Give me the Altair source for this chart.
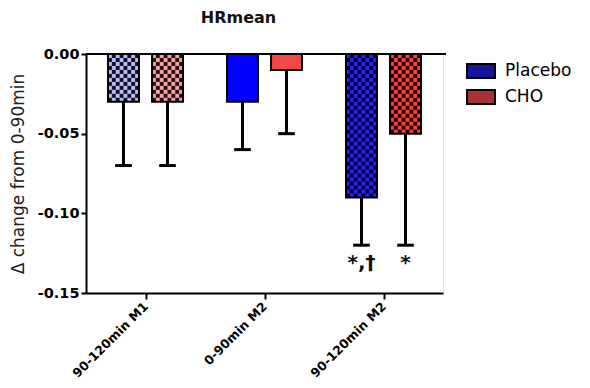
import altair as alt
import pandas as pd

# Δ heart rate (mean) relative to the 0-90 min block
groups = ["90-120min M1", "0-90min M2", "90-120min M2"]
series = ["Placebo", "CHO"]
placebo_mean = [-0.03, -0.03, -0.09]
placebo_sd = [0.04, 0.03, 0.03]
cho_mean = [-0.03, -0.01, -0.05]
cho_sd = [0.04, 0.04, 0.07]
placebo_marks = ["", "", "*,†"]
cho_marks = ["", "", "*"]

FONT = "DejaVu Sans"

# fill styles per group: (base, checker) colours; None = solid bar
styles = {
    "Placebo": [("#bcbcf4", "#10102a"), ("#0000ff", None), ("#2424ee", "#000040")],
    "CHO": [("#f4a4a4", "#2a1010"), ("#f44848", None), ("#f04444", "#300000")],
}
legend_colors = ["#16169c", "#a83232"]

BAR_W = 0.26      # bar width in x units (one group = 1 unit)
GAP = 0.055       # half gap between the two bars of a group
CAP = 0.07        # half width of the error-bar cap
NCOL = 8          # checker squares across a bar
CELL_H = 0.0025   # checker square height in y units

bars, cells = [], []
for s_idx, (name, means, sds, marks) in enumerate([
    ("Placebo", placebo_mean, placebo_sd, placebo_marks),
    ("CHO", cho_mean, cho_sd, cho_marks),
]):
    for g, grp in enumerate(groups):
        c = g + 0.5
        x0 = c - GAP - BAR_W if s_idx == 0 else c + GAP
        x1 = x0 + BAR_W
        base, dark = styles[name][g]
        m = means[g]
        bars.append(dict(series=name, group=grp, x0=x0, x1=x1, xc=(x0 + x1) / 2,
                         mean=m, low=m - sds[g], fill=base, mark=marks[g],
                         cap0=(x0 + x1) / 2 - CAP, cap1=(x0 + x1) / 2 + CAP))
        if dark is None:
            continue
        cw = BAR_W / NCOL
        nrow = int(round(abs(m) / CELL_H))
        for r in range(nrow):
            y0 = -r * CELL_H
            y1 = max(-(r + 1) * CELL_H, m)
            for k in range(NCOL):
                if (r + k) % 2 == 1:
                    cells.append(dict(cx0=x0 + k * cw, cx1=x0 + (k + 1) * cw,
                                      cy0=y0, cy1=y1, fill=dark))

bar_df = pd.DataFrame(bars)
cell_df = pd.DataFrame(cells)

label_list = "[" + ",".join("'" + g + "'" for g in groups) + "]"

x_scale = alt.Scale(domain=[0, 3], nice=False, zero=False)
y_scale = alt.Scale(domain=[-0.15, 0], nice=False)

x_axis = alt.Axis(
    values=[0.5, 1.5, 2.5], labelExpr=label_list + "[floor(datum.value)]",
    labelAngle=-45, labelAlign="right", labelBaseline="middle", labelPadding=5,
    labelFont=FONT, labelFontWeight="bold", labelFontSize=12.5, labelColor="#000",
    domainColor="#000", domainWidth=2, tickColor="#000", tickWidth=2, tickSize=6,
    grid=False, title=None,
)
y_axis = alt.Axis(
    values=[-0.15, -0.1, -0.05, 0], labelExpr="replace(format(datum.value, '.2f'), '−', '-')",
    labelFont=FONT, labelFontWeight="bold", labelFontSize=14.5, labelColor="#000",
    domainColor="#000", domainWidth=2, tickColor="#000", tickWidth=2, tickSize=5,
    grid=False, title="Δ change from 0-90min", titleFont=FONT, titleFontWeight="normal",
    titleFontSize=17, titleColor="#222", titlePadding=10,
)

base = alt.Chart(bar_df)

bar_fill = base.mark_rect().encode(
    x=alt.X("x0:Q", scale=x_scale, axis=x_axis),
    x2="x1:Q",
    y=alt.Y("mean:Q", scale=y_scale, axis=y_axis),
    y2=alt.datum(0),
    fill=alt.Fill("fill:N", scale=None),
)

checker = alt.Chart(cell_df).mark_rect().encode(
    x=alt.X("cx0:Q", scale=x_scale), x2="cx1:Q",
    y=alt.Y("cy0:Q", scale=y_scale), y2="cy1:Q",
    fill=alt.Fill("fill:N", scale=None),
)

bar_outline = base.mark_rect(fill=None, stroke="#000", strokeWidth=2).encode(
    x=alt.X("x0:Q", scale=x_scale), x2="x1:Q",
    y=alt.Y("mean:Q", scale=y_scale), y2=alt.datum(0),
)

err = base.mark_rule(color="#000", strokeWidth=3).encode(
    x=alt.X("xc:Q", scale=x_scale),
    y=alt.Y("mean:Q", scale=y_scale), y2="low:Q",
)
cap = base.mark_rule(color="#000", strokeWidth=3).encode(
    x=alt.X("cap0:Q", scale=x_scale), x2="cap1:Q",
    y=alt.Y("low:Q", scale=y_scale),
)

zero_line = alt.Chart(pd.DataFrame({"v": [0]})).mark_rule(color="#000", strokeWidth=2).encode(
    y=alt.Y("v:Q", scale=y_scale), x=alt.value(0), x2=alt.value(360),
)

notes = base.mark_text(font=FONT, fontSize=20, fontWeight="bold", baseline="top",
                       dy=8, color="#111").encode(
    x=alt.X("xc:Q", scale=x_scale), y=alt.Y("low:Q", scale=y_scale), text="mark:N",
)

legend_layer = base.mark_point(filled=True, opacity=0).encode(
    x=alt.X("xc:Q", scale=x_scale), y=alt.Y("mean:Q", scale=y_scale),
    fill=alt.Fill(
        "series:N",
        scale=alt.Scale(domain=series, range=legend_colors),
        legend=alt.Legend(
            title=None, orient="none", legendX=380, legendY=2,
            symbolType="M-1,-0.5H1V0.5H-1Z", symbolSize=784,
            symbolStrokeColor="#000", symbolStrokeWidth=2, symbolOpacity=1,
            labelFont=FONT, labelFontSize=17, labelColor="#000", labelOffset=9,
            rowPadding=-1,
        ),
    ),
)

chart = alt.layer(
    bar_fill, checker, bar_outline, err, cap, zero_line, notes, legend_layer
).properties(
    width=357, height=239,
    title=alt.TitleParams("HRmean", font=FONT, fontSize=16, fontWeight="bold",
                          color="#111", anchor="middle", dx=-26, offset=20),
    autosize=alt.AutoSizeParams(type="none"),
    padding={"left": 86, "top": 54, "right": 147, "bottom": 95},
).configure_view(stroke=None).configure(background="#ffffff")

chart.save("out.html", embed_options={"renderer": "svg", "actions": False})
